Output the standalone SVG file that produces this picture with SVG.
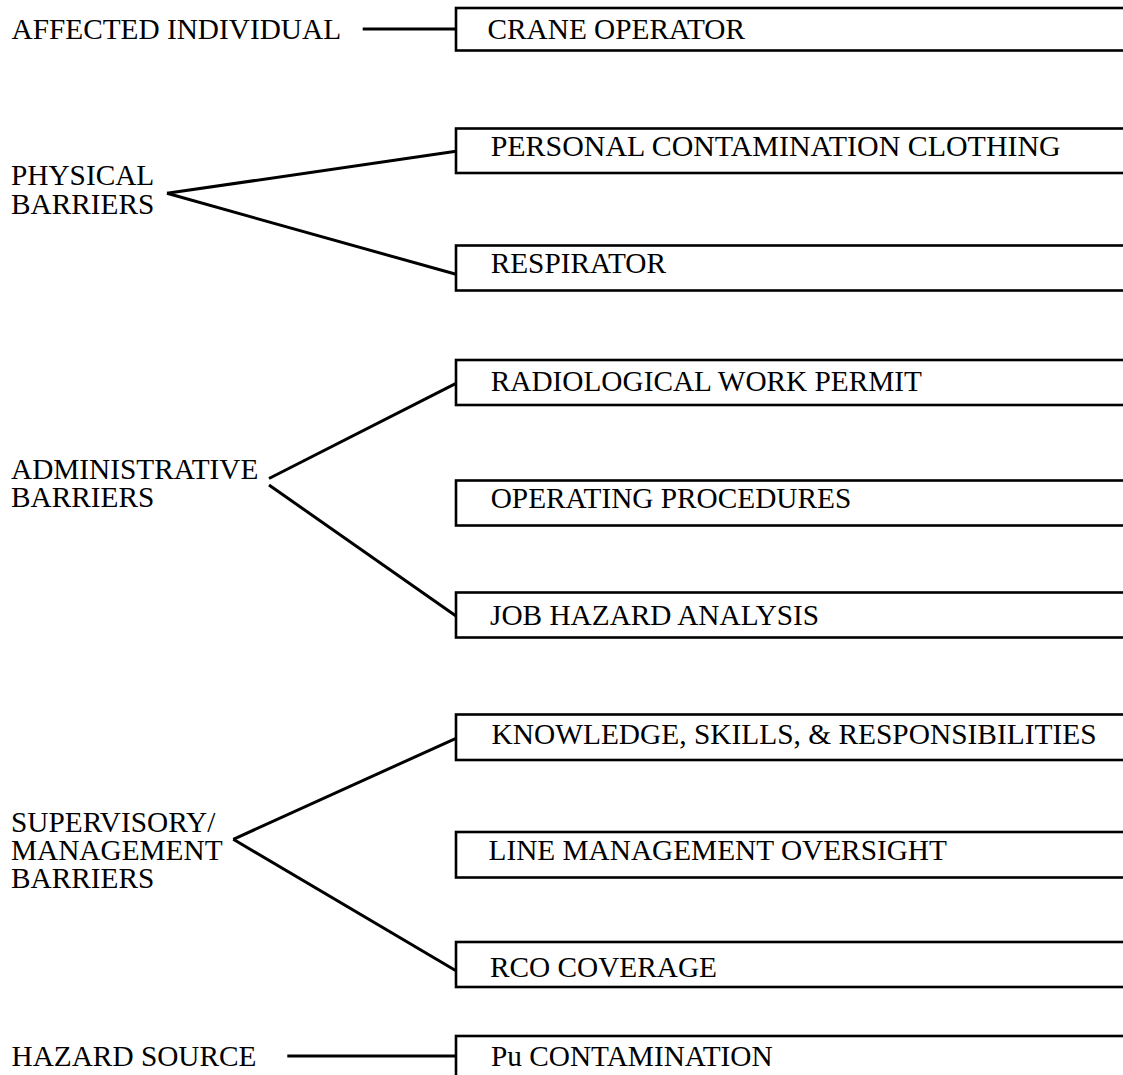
<svg xmlns="http://www.w3.org/2000/svg" width="1123" height="1075" viewBox="0 0 1123 1075">
<style>
  text { font-family: "Liberation Serif", "Times New Roman", serif; font-size: 29.3px; fill: #000; }
  .box { fill: #fff; stroke: #000; stroke-width: 2.6; }
  .conn line { stroke: #000; stroke-width: 3; stroke-linecap: butt; }
</style>
<rect x="0" y="0" width="1123" height="1075" fill="#fff"/>

<g id="connectors" class="conn">
  <line x1="362.7" y1="29" x2="456" y2="29"/>
  <line x1="167" y1="193.3" x2="456" y2="151.3"/>
  <line x1="167" y1="193.3" x2="456" y2="274.3"/>
  <line x1="269" y1="478.5" x2="456" y2="383.3"/>
  <line x1="269" y1="485" x2="456" y2="616"/>
  <line x1="233.3" y1="839.3" x2="456" y2="738.3"/>
  <line x1="233.3" y1="839.3" x2="456" y2="970.7"/>
  <line x1="287.3" y1="1056" x2="456" y2="1056"/>
</g>

<g id="label-affected"><text x="11.5" y="39.3">AFFECTED INDIVIDUAL</text></g>
<g id="label-physical"><text x="11" y="185">PHYSICAL</text><text x="11" y="213.5">BARRIERS</text></g>
<g id="label-administrative"><text x="11" y="479">ADMINISTRATIVE</text><text x="11" y="507.3">BARRIERS</text></g>
<g id="label-supervisory"><text x="11" y="831.7">SUPERVISORY/</text><text x="11" y="860">MANAGEMENT</text><text x="11" y="888.3">BARRIERS</text></g>
<g id="label-hazard"><text x="11.5" y="1066">HAZARD SOURCE</text></g>

<g id="box-crane"><rect class="box" x="456" y="8" width="700" height="42.5"/><text x="487.5" y="39.3">CRANE OPERATOR</text></g>
<g id="box-clothing"><rect class="box" x="456" y="128.5" width="700" height="44.5"/><text x="490.7" y="156.3" textLength="570" lengthAdjust="spacingAndGlyphs">PERSONAL CONTAMINATION CLOTHING</text></g>
<g id="box-respirator"><rect class="box" x="456" y="245.5" width="700" height="45"/><text x="490.7" y="273.3">RESPIRATOR</text></g>
<g id="box-rwp"><rect class="box" x="456" y="360" width="700" height="45"/><text x="490.7" y="390.5">RADIOLOGICAL WORK PERMIT</text></g>
<g id="box-procedures"><rect class="box" x="456" y="480.5" width="700" height="45"/><text x="490.7" y="508.3">OPERATING PROCEDURES</text></g>
<g id="box-jha"><rect class="box" x="456" y="592.5" width="700" height="45"/><text x="490" y="625">JOB HAZARD ANALYSIS</text></g>
<g id="box-ksr"><rect class="box" x="456" y="714.5" width="700" height="45.5"/><text x="491.5" y="743.5" textLength="605" lengthAdjust="spacingAndGlyphs">KNOWLEDGE, SKILLS, &amp; RESPONSIBILITIES</text></g>
<g id="box-lmo"><rect class="box" x="456" y="832" width="700" height="45.5"/><text x="488.5" y="860">LINE MANAGEMENT OVERSIGHT</text></g>
<g id="box-rco"><rect class="box" x="456" y="942" width="700" height="45"/><text x="490" y="977" textLength="227" lengthAdjust="spacingAndGlyphs">RCO COVERAGE</text></g>
<g id="box-pu"><rect class="box" x="456" y="1036" width="700" height="100"/><text x="491" y="1066">Pu CONTAMINATION</text></g>
</svg>
